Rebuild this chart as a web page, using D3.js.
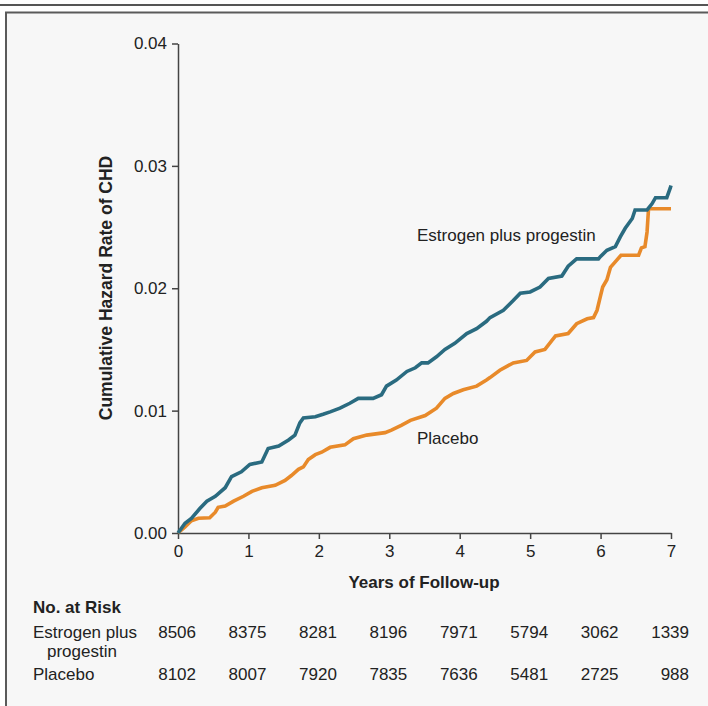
<!DOCTYPE html>
<html>
<head>
<meta charset="utf-8">
<script src="https://cdn.jsdelivr.net/npm/d3@7"></script>
<style>
  html, body { margin: 0; padding: 0; background: #ffffff; }
  svg { display: block; font-family: "Liberation Sans", Arial, sans-serif; }
  .axis path, .axis line { stroke: #444; stroke-width: 1.5; }
  .axis text { fill: #222; font-size: 17px; font-family: "Liberation Sans", Arial, sans-serif; }
</style>
</head>
<body>
<script>
// ---- data ----
const yearTicks = [0, 1, 2, 3, 4, 5, 6, 7];
const rateTicks = [0.00, 0.01, 0.02, 0.03, 0.04];

const estTimes = [0, 0.1, 0.19, 0.31, 0.41, 0.53, 0.67, 0.76, 0.9, 1.02, 1.19, 1.28, 1.43, 1.57, 1.66, 1.73, 1.78, 1.95, 2.06, 2.16,
  2.3, 2.44, 2.56, 2.77, 2.89, 2.96, 3.1, 3.25, 3.37, 3.46, 3.55, 3.67, 3.79, 3.93, 4.1, 4.24, 4.38, 4.43, 4.62, 4.76,
  4.86, 5.0, 5.14, 5.26, 5.45, 5.54, 5.66, 5.97, 6.0, 6.09, 6.21, 6.28, 6.35, 6.45, 6.49, 6.66, 6.73, 6.78, 6.94, 6.99, 7.0];
const estValues = [0, 0.0008, 0.0012, 0.002, 0.0026, 0.003, 0.0037, 0.0046, 0.005, 0.0056, 0.0058, 0.0069, 0.0071, 0.0076, 0.008, 0.009, 0.0094, 0.0095, 0.0097, 0.0099,
  0.0102, 0.0106, 0.011, 0.011, 0.0113, 0.012, 0.0125, 0.0132, 0.0135, 0.0139, 0.0139, 0.0144, 0.015, 0.0155, 0.0163, 0.0167, 0.0173, 0.0176, 0.0182, 0.019,
  0.0196, 0.0197, 0.0201, 0.0208, 0.021, 0.0218, 0.0224, 0.0224, 0.0226, 0.0231, 0.0234, 0.0242, 0.0249, 0.0257, 0.0264, 0.0264, 0.0269, 0.0274, 0.0274, 0.0282, 0.0284];

const plaTimes = [0, 0.1, 0.19, 0.29, 0.45, 0.53, 0.57, 0.67, 0.79, 0.93, 1.05, 1.19, 1.38, 1.52, 1.61, 1.71, 1.78, 1.85, 1.95, 2.04, 2.16,
  2.37, 2.49, 2.68, 2.94, 3.03, 3.17, 3.3, 3.51, 3.67, 3.79, 3.91, 4.05, 4.24, 4.38, 4.43, 4.57, 4.76, 4.95, 5.07, 5.21,
  5.36, 5.54, 5.66, 5.81, 5.9, 5.95, 6.0, 6.03, 6.09, 6.14, 6.23, 6.29, 6.54, 6.58, 6.63, 6.66, 6.68, 6.7, 7.0];
const plaValues = [0, 0.0005, 0.001, 0.0012, 0.00125, 0.0017, 0.0021, 0.0022, 0.0026, 0.003, 0.0034, 0.0037, 0.0039, 0.0043, 0.0047, 0.0052, 0.0054, 0.006, 0.0064, 0.0066, 0.007,
  0.0072, 0.0077, 0.008, 0.0082, 0.0084, 0.0088, 0.0092, 0.0096, 0.0102, 0.011, 0.0114, 0.0117, 0.012, 0.0125, 0.0127, 0.0133, 0.0139, 0.0141, 0.0148, 0.015,
  0.0161, 0.0163, 0.0171, 0.0175, 0.0176, 0.0182, 0.0194, 0.0201, 0.0207, 0.0217, 0.0223, 0.0227, 0.0227, 0.0233, 0.0234, 0.0246, 0.0264, 0.0265, 0.0265];

const seriesNames = ["Estrogen plus progestin", "Placebo"];
const riskEst = [8506, 8375, 8281, 8196, 7971, 5794, 3062, 1339];
const riskPla = [8102, 8007, 7920, 7835, 7636, 5481, 2725, 988];

// ---- drawing ----
const W = 708, H = 706;
const svg = d3.select("body").append("svg").attr("width", W).attr("height", H);

// frame
svg.append("rect").attr("x", 0).attr("y", 0).attr("width", W).attr("height", H).attr("fill", "#ffffff");
svg.append("line").attr("x1", 0).attr("x2", W).attr("y1", 5).attr("y2", 5)
  .attr("stroke", "#555").attr("stroke-width", 2);
svg.append("rect").attr("x", 6).attr("y", 12.5).attr("width", W + 10).attr("height", H + 10)
  .attr("fill", "#f7f7f7").attr("stroke", "#5a5a5a").attr("stroke-width", 2);

const x = d3.scaleLinear().domain([0, 7]).range([178, 671]);
const y = d3.scaleLinear().domain([0, 0.04]).range([533, 43.5]);

// axes
svg.append("g").attr("class", "axis").attr("transform", "translate(0,533)")
  .call(d3.axisBottom(x).tickValues(yearTicks).tickFormat(d3.format("d")).tickSize(6).tickSizeOuter(0).tickPadding(6));
svg.append("g").attr("class", "axis").attr("transform", "translate(178,0)")
  .call(d3.axisLeft(y).tickValues(rateTicks).tickFormat(d3.format(".2f")).tickSize(6).tickSizeOuter(0).tickPadding(5));

// axis titles
svg.append("text").attr("transform", "translate(112,288) rotate(-90)")
  .attr("text-anchor", "middle").attr("font-size", 17.5).attr("font-weight", "bold").attr("fill", "#222")
  .text("Cumulative Hazard Rate of CHD");
svg.append("text").attr("x", 424).attr("y", 588)
  .attr("text-anchor", "middle").attr("font-size", 17).attr("font-weight", "bold").attr("fill", "#222")
  .text("Years of Follow-up");

// curves
const line = d3.line().x(d => x(d[0])).y(d => y(d[1])).curve(d3.curveLinear);
const estData = d3.zip(estTimes, estValues);
const plaData = d3.zip(plaTimes, plaValues);

svg.append("path").datum(plaData).attr("d", line)
  .attr("fill", "none").attr("stroke", "#e88a2a").attr("stroke-width", 3.6).attr("stroke-linejoin", "miter");
svg.append("path").datum(estData).attr("d", line)
  .attr("fill", "none").attr("stroke", "#2a6b80").attr("stroke-width", 3.6).attr("stroke-linejoin", "miter");

// labels
svg.append("text").attr("x", 417).attr("y", 241).attr("font-size", 17).attr("fill", "#222").text(seriesNames[0]);
svg.append("text").attr("x", 417).attr("y", 444).attr("font-size", 17).attr("fill", "#222").text(seriesNames[1]);

// risk table
svg.append("text").attr("x", 33).attr("y", 613).attr("font-size", 17).attr("font-weight", "bold").attr("fill", "#222").text("No. at Risk");
svg.append("text").attr("x", 33).attr("y", 638).attr("font-size", 17).attr("fill", "#222").text("Estrogen plus");
svg.append("text").attr("x", 47).attr("y", 657).attr("font-size", 17).attr("fill", "#222").text("progestin");
svg.append("text").attr("x", 33).attr("y", 680).attr("font-size", 17).attr("fill", "#222").text(seriesNames[1]);

svg.append("g").selectAll("text").data(riskEst).join("text")
  .attr("x", (d, i) => x(yearTicks[i]) + 18).attr("y", 638)
  .attr("text-anchor", "end").attr("font-size", 17).attr("fill", "#222").text(d => d);
svg.append("g").selectAll("text").data(riskPla).join("text")
  .attr("x", (d, i) => x(yearTicks[i]) + 18).attr("y", 680)
  .attr("text-anchor", "end").attr("font-size", 17).attr("fill", "#222").text(d => d);
</script>
</body>
</html>
